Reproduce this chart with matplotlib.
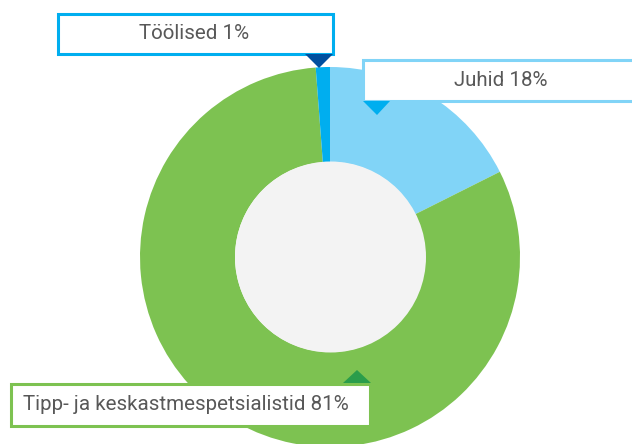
import matplotlib.pyplot as plt
from matplotlib.patches import Circle, Rectangle, Polygon

# slice data (clockwise from 12 o'clock), shares
labels = ['Juhid', 'Tipp- ja keskastmespetsialistid', 'Töölised']
values = [17.6, 81.2, 1.2]
colors = ['#81d4f7', '#7dc251', '#00aeef']

# label texts as printed in the boxes
box_label = ['Töölised 1%', 'Juhid 18%', 'Tipp- ja keskastmespetsialistid 81%']

W, H = 632, 444
fig = plt.figure(figsize=(W / 100, H / 100), dpi=100)
ax = fig.add_axes([0, 0, 1, 1])

def Y(y):
    # image row -> data y
    return H - y

cx, cy, R = 330, Y(257), 190
ax.pie(values, colors=colors, startangle=90, counterclock=False,
       center=(cx, cy), radius=R, frame=True,
       wedgeprops=dict(width=R - 95, linewidth=0))
ax.set_xlim(0, W)
ax.set_ylim(0, H)
ax.set_aspect('equal')
ax.axis('off')

# centre disc
ax.add_patch(Circle((cx + 0.5, cy), 95.5, facecolor='#f3f3f3', edgecolor='none', zorder=3))

def box(x0, y0, x1, y1, ec):
    ax.add_patch(Rectangle((x0, Y(y1)), x1 - x0, y1 - y0, facecolor='white',
                           edgecolor=ec, linewidth=2.2, zorder=5))

def tri(pts, c):
    ax.add_patch(Polygon([(x, Y(y)) for x, y in pts], closed=True, facecolor=c,
                         edgecolor='none', zorder=6))

font = dict(family='Roboto', fontsize=14.8, color='#585858', zorder=7)

# Töölised
box(58, 14, 333, 54, '#00aeef')
tri([(305, 54), (333, 54), (319, 68)], '#004f9f')
ax.text(194, Y(34), box_label[0], ha='center', va='center', **font)

# Juhid
box(363, 60, 645, 101, '#81d4f7')
tri([(363, 101), (390, 101), (377, 115)], '#00aeef')
ax.text(501, Y(81), box_label[1], ha='center', va='center', **font)

# Tipp
box(11, 384, 370, 426, '#7dc251')
tri([(343, 383), (371, 383), (357, 370)], '#2a9d4b')
ax.text(23, Y(405), box_label[2], ha='left', va='center', **font)

fig.savefig('out.png', dpi=100)
